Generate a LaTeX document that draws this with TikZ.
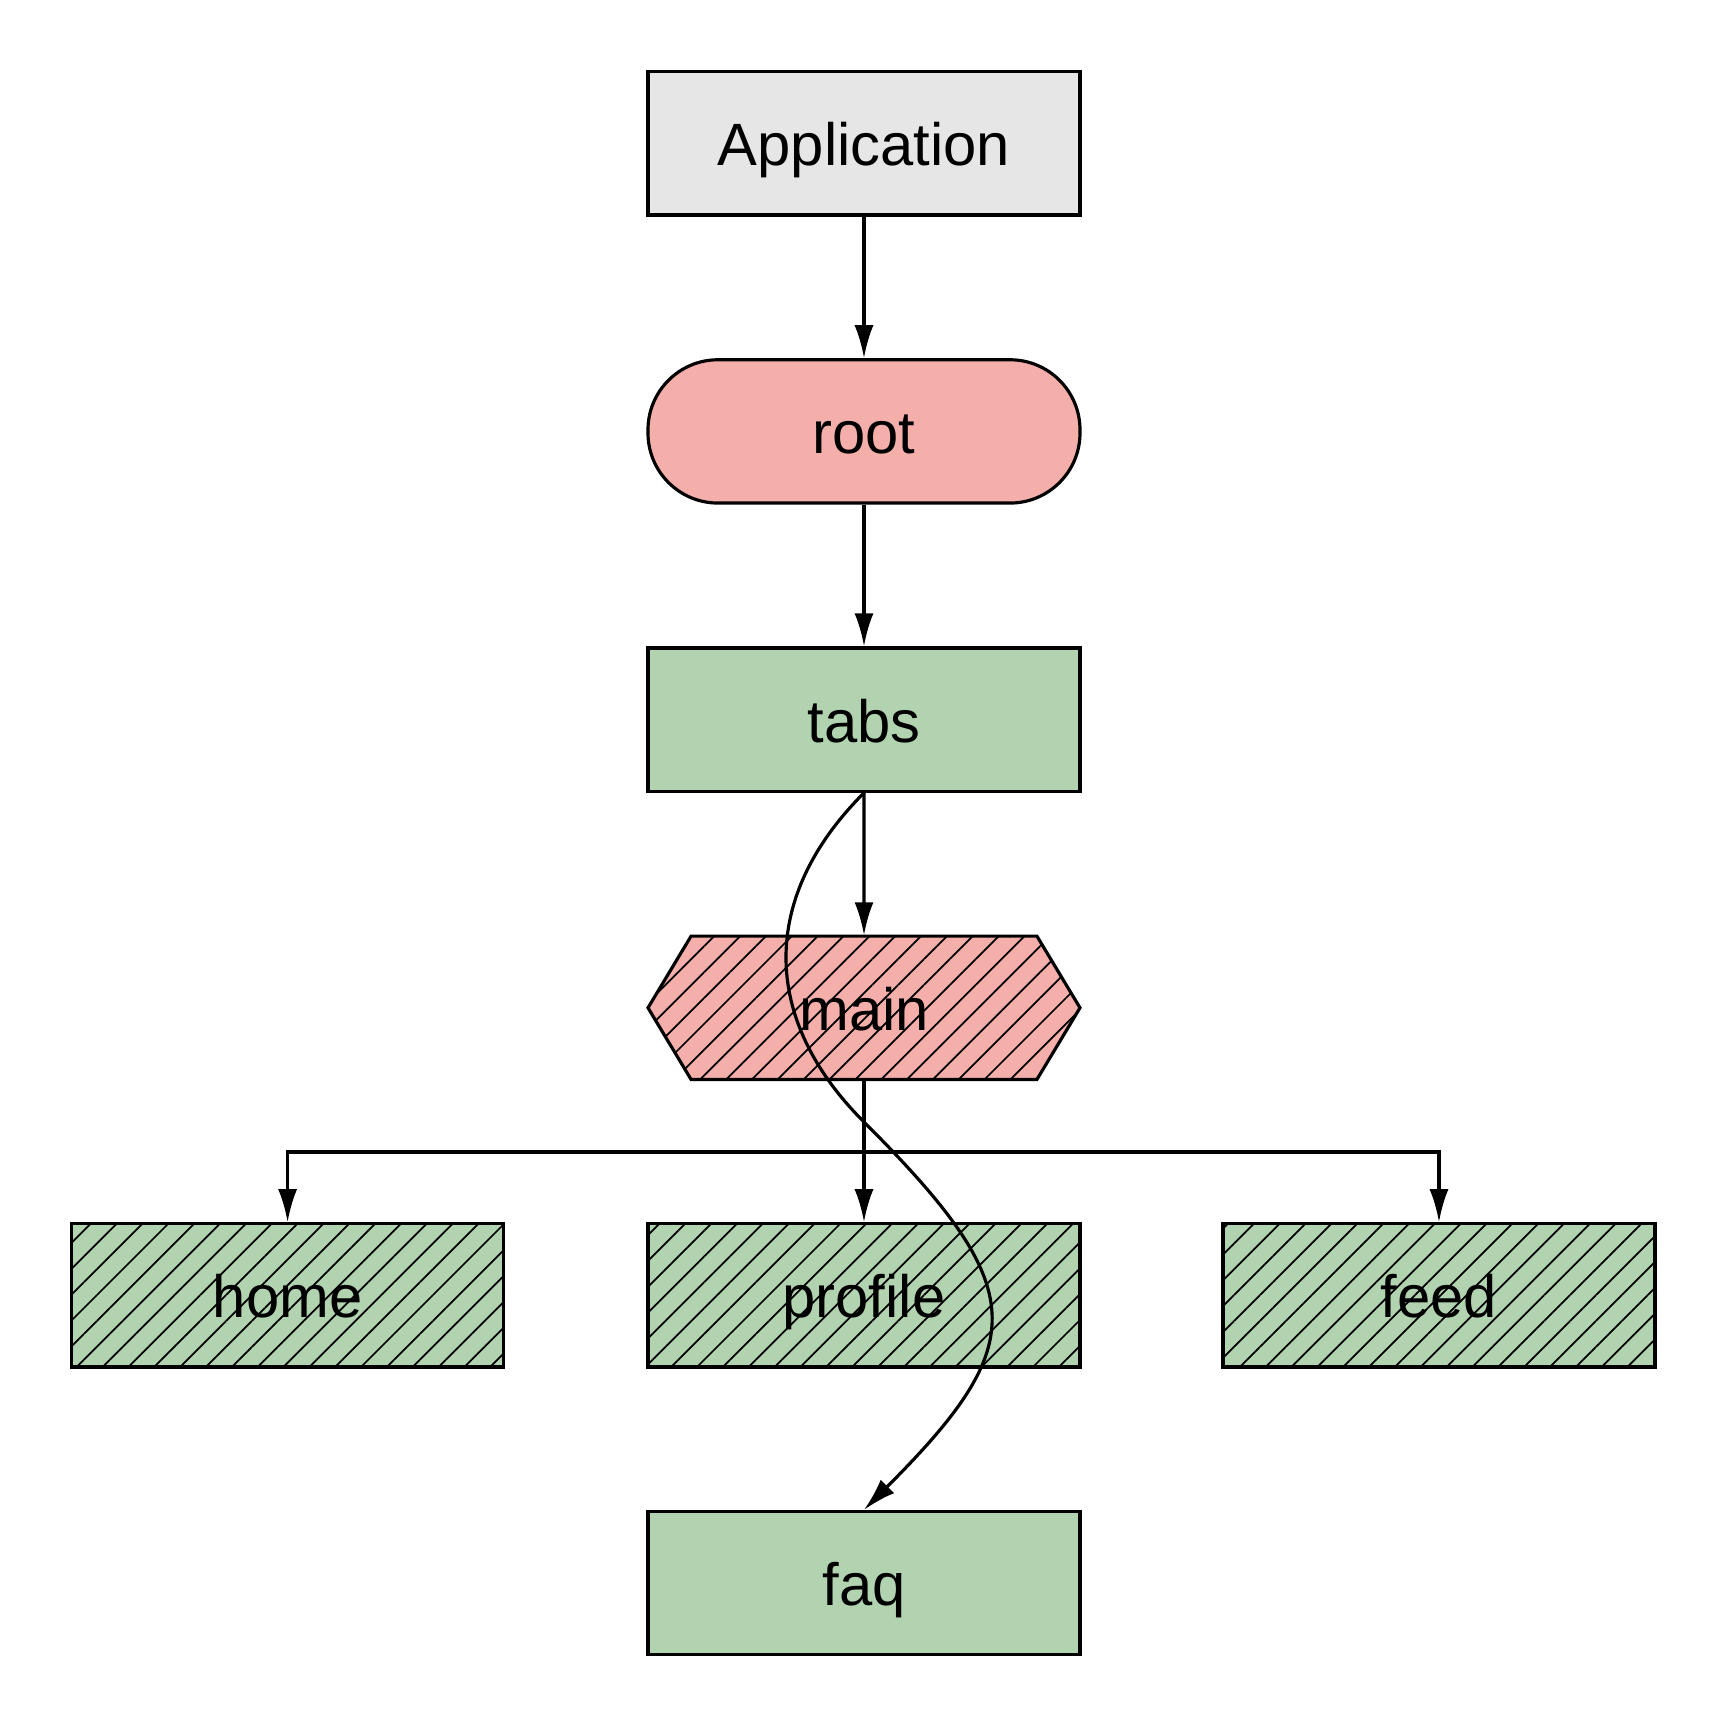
\documentclass[tikz,border=0pt]{standalone}
\usepackage{fontspec}
\setmainfont{Liberation Sans}
\usetikzlibrary{arrows.meta,shapes.symbols,patterns.meta}
\definecolor{appgray}{HTML}{E6E6E6}
\definecolor{rootred}{HTML}{F4AFAB}
\definecolor{tabgreen}{HTML}{B2D3AF}

\begin{document}
\begin{tikzpicture}[
  screen/.style={draw, line width=0.9pt, minimum width=4.32cm, minimum height=1.433cm, inner sep=0pt, text height=16pt, text depth=3.2pt, align=center, font=\fontsize{17}{20}\selectfont},
  hatched/.style={preaction={fill=#1}, pattern={Lines[angle=45, distance=5.2pt, line width=0.5pt]}, pattern color=black},
  arrow/.style={-{Latex[length=3.3mm, width=1.9mm]}, line width=0.9pt},
  >=Latex
]
\useasboundingbox (0,0) rectangle (17.28,-17.28);

% Top of the tree
\node[screen, fill=appgray] (app) at (8.64,-1.433) {Application};
\node[screen, fill=rootred, rounded corners=7mm] (root) at (8.64,-4.314) {root};
\node[screen, fill=tabgreen] (tabs) at (8.64,-7.196) {tabs};

% Hexagon
\node[screen, hatched=rootred, signal, signal to=east and west, signal pointer angle=118] (main) at (8.64,-10.078) {main};

% Row of tabs
\node[screen, hatched=tabgreen] (home) at (2.876,-12.954) {home};
\node[screen, hatched=tabgreen] (profile) at (8.64,-12.954) {profile};
\node[screen, hatched=tabgreen] (feed) at (14.39,-12.954) {feed};

% Bottom
\node[screen, fill=tabgreen] (faq) at (8.64,-15.831) {faq};

% Arrows
\draw[arrow] (app) -- (root);
\draw[arrow] (root) -- (tabs);
\draw[arrow] (tabs) -- (main);
\draw[arrow] (main.south) -- ++(0,-0.716) -| (home.north);
\draw[arrow] (main.south) -- (profile.north);
\draw[arrow] (main.south) -- ++(0,-0.716) -| (feed.north);
\coordinate (bend) at (8.64,-11.22);
\draw[arrow] (tabs.south) .. controls +(-1.04,-1.04) and +(-1.04,1.04) .. (bend)
  .. controls +(1.67,-1.67) and +(1.67,1.67) .. (faq.north);

\end{tikzpicture}
\end{document}
